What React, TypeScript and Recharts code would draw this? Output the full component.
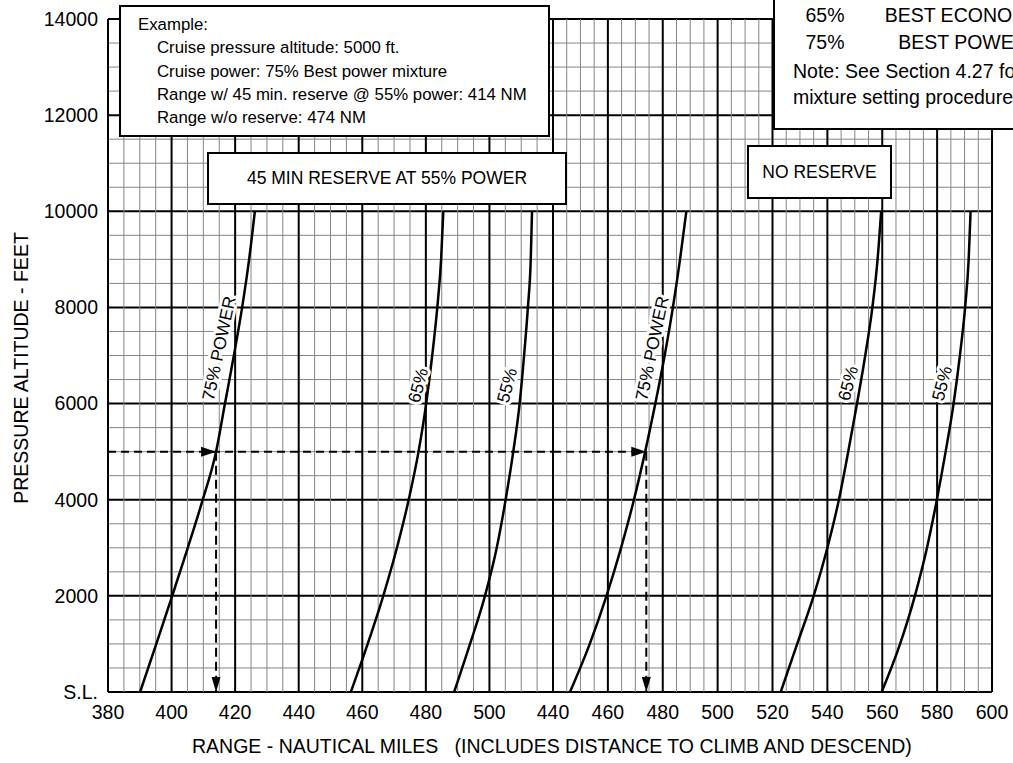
import { ComposedChart, Line, XAxis, YAxis, ReferenceLine, ReferenceDot } from 'recharts'

// pressure altitude (ft) at which each curve was read
const ALTITUDES = [0, 1000, 2000, 3000, 4000, 5000, 6000, 7000, 8000, 9000, 10000]

// 45 min reserve at 55% power (left scale)
const RES_75 = [390.1, 395.2, 400.2, 405.1, 409.8, 414.0, 416.8, 419.6, 422.2, 424.4, 426.2]
const RES_65 = [456.4, 461.7, 466.6, 470.9, 474.6, 477.7, 480.1, 482.0, 483.6, 484.8, 485.5]
const RES_55 = [488.9, 493.9, 498.6, 502.3, 505.1, 507.5, 509.5, 510.9, 512.1, 513.0, 513.4]

// no reserve (right scale)
const NORES_75 = [446.2, 453.4, 459.5, 464.8, 469.5, 473.6, 477.3, 480.7, 483.7, 486.3, 488.6]
const NORES_65 = [523.0, 529.0, 535.0, 540.0, 544.2, 547.6, 550.8, 553.8, 556.4, 558.3, 559.6]
const NORES_55 = [559.8, 566.5, 571.9, 576.3, 579.9, 583.1, 586.0, 588.3, 590.2, 591.5, 592.2]

const LEFT_TICKS = [380, 400, 420, 440, 460, 480, 500]
const RIGHT_TICKS = [440, 460, 480, 500, 520, 540, 560, 580, 600]
const ALT_TICKS = [0, 2000, 4000, 6000, 8000, 10000, 12000, 14000]

// worked example
const EX_ALT = 5000
const EX_RESERVE = 414
const EX_NO_RESERVE = 474

// the two range scales share one plot: left panel 380-520, right panel 440-600
const LEFT_START = 380
const LEFT_END = 520
const RIGHT_START = 440
const RIGHT_END = 600
const PX_LEFT = 108
const PX_SPLIT = 553
const PX_RIGHT = 992
const W = PX_RIGHT - PX_LEFT
const LEFT_DOMAIN = [LEFT_START, LEFT_START + W * (LEFT_END - LEFT_START) / (PX_SPLIT - PX_LEFT)]
const RIGHT_DOMAIN = [RIGHT_END - W * (RIGHT_END - RIGHT_START) / (PX_RIGHT - PX_SPLIT), RIGHT_END]

const FONT = '"Liberation Sans", Arial, Helvetica, sans-serif'

const steps = (a: number, b: number, s: number) => {
  const out: number[] = []
  for (let v = a; v <= b + 0.001; v += s) out.push(v)
  return out
}

const pts = (ranges: number[]) => ranges.map((x, i) => ({ x, y: ALTITUDES[i] }))

const MAJOR = { stroke: '#000', strokeWidth: 2 }
const MINOR = { stroke: '#858585', strokeWidth: 1 }

const CURVES = [
  { id: 'r75', axis: 'L', data: RES_75 },
  { id: 'r65', axis: 'L', data: RES_65 },
  { id: 'r55', axis: 'L', data: RES_55 },
  { id: 'n75', axis: 'R', data: NORES_75 },
  { id: 'n65', axis: 'R', data: NORES_65 },
  { id: 'n55', axis: 'R', data: NORES_55 },
]

const CURVE_LABELS = [
  { axis: 'L', x: 414.9, y: 7150, text: '75% POWER', angle: -78 },
  { axis: 'L', x: 477.5, y: 6380, text: '65%', angle: -75 },
  { axis: 'L', x: 505.5, y: 6380, text: '55%', angle: -75 },
  { axis: 'R', x: 476.1, y: 7150, text: '75% POWER', angle: -78 },
  { axis: 'R', x: 547.5, y: 6420, text: '65%', angle: -75 },
  { axis: 'R', x: 581.8, y: 6420, text: '55%', angle: -75 },
]

const labelShape = (text: string, angle: number) => (p: any) => (
  <text
    x={p.cx}
    y={p.cy}
    transform={`rotate(${angle} ${p.cx} ${p.cy})`}
    textAnchor="middle"
    dominantBaseline="central"
    fontSize={17.5}
    fill="#000"
    stroke="#fff"
    strokeWidth={6}
    strokeLinejoin="round"
    paintOrder="stroke"
  >
    {text}
  </text>
)

const arrowRight = (p: any) => (
  <polygon points={`${p.cx},${p.cy} ${p.cx - 15},${p.cy - 5} ${p.cx - 15},${p.cy + 5}`} fill="#000" />
)
const arrowDown = (p: any) => (
  <polygon points={`${p.cx},${p.cy} ${p.cx - 4.5},${p.cy - 15} ${p.cx + 4.5},${p.cy - 15}`} fill="#000" />
)

const box: React.CSSProperties = {
  position: 'absolute',
  boxSizing: 'border-box',
  border: '2px solid #000',
  background: '#fff',
  color: '#000',
}

const centred: React.CSSProperties = {
  position: 'absolute',
  width: 0,
  display: 'flex',
  justifyContent: 'center',
  whiteSpace: 'nowrap',
}

export default function App() {
  const tickStyle = { fill: '#000', fontSize: 19.5 }
  return (
    <div style={{ position: 'fixed', left: 0, top: 0, width: 1013, height: 763, overflow: 'hidden', background: '#fff', fontFamily: FONT }}>
      <ComposedChart width={1013} height={763} margin={{ top: 19, right: 21, bottom: 0, left: 0 }}>
        <XAxis
          xAxisId="L"
          dataKey="x"
          type="number"
          domain={LEFT_DOMAIN}
          allowDataOverflow
          ticks={LEFT_TICKS}
          interval={0}
          height={1}
          axisLine={false}
          tickLine={false}
          tickMargin={7}
          tick={tickStyle}
        />
        <XAxis
          xAxisId="R"
          dataKey="x"
          type="number"
          domain={RIGHT_DOMAIN}
          allowDataOverflow
          ticks={RIGHT_TICKS}
          interval={0}
          height={70}
          axisLine={false}
          tickLine={false}
          tickMargin={6}
          tick={tickStyle}
        />
        <YAxis
          dataKey="y"
          type="number"
          domain={[0, 14000]}
          allowDataOverflow
          ticks={ALT_TICKS}
          interval={0}
          width={108}
          axisLine={false}
          tickLine={false}
          tickMargin={4}
          tick={tickStyle}
          tickFormatter={(v: number) => (v === 0 ? 'S.L.' : String(v))}
        />

        {steps(0, 14000, 500).map(v => (
          <ReferenceLine key={`h${v}`} xAxisId="L" y={v} {...(v % 2000 === 0 ? MAJOR : MINOR)} />
        ))}
        {steps(LEFT_START, LEFT_END, 5).map(v => (
          <ReferenceLine key={`vl${v}`} xAxisId="L" x={v} {...((v - LEFT_START) % 20 === 0 ? MAJOR : MINOR)} />
        ))}
        {steps(RIGHT_START, RIGHT_END, 5).map(v => (
          <ReferenceLine key={`vr${v}`} xAxisId="R" x={v} {...((v - RIGHT_START) % 20 === 0 ? MAJOR : MINOR)} />
        ))}

        {CURVES.map(c => (
          <Line
            key={c.id}
            xAxisId={c.axis}
            data={pts(c.data)}
            dataKey="y"
            type="monotone"
            stroke="#000"
            strokeWidth={2.5}
            dot={false}
            activeDot={false}
            isAnimationActive={false}
          />
        ))}

        {/* example: 5000 ft, 75% power */}
        <Line xAxisId="L" data={[{ x: LEFT_START, y: EX_ALT }, { x: LEFT_END, y: EX_ALT }]} dataKey="y" type="linear"
          stroke="#000" strokeWidth={2} strokeDasharray="8 5" dot={false} activeDot={false} isAnimationActive={false} />
        <Line xAxisId="R" data={[{ x: RIGHT_START, y: EX_ALT }, { x: EX_NO_RESERVE, y: EX_ALT }]} dataKey="y" type="linear"
          stroke="#000" strokeWidth={2} strokeDasharray="8 5" dot={false} activeDot={false} isAnimationActive={false} />
        <Line xAxisId="L" data={[{ x: EX_RESERVE, y: EX_ALT }, { x: EX_RESERVE, y: 0 }]} dataKey="y" type="linear"
          stroke="#000" strokeWidth={2} strokeDasharray="9 5" dot={false} activeDot={false} isAnimationActive={false} />
        <Line xAxisId="R" data={[{ x: EX_NO_RESERVE, y: EX_ALT }, { x: EX_NO_RESERVE, y: 0 }]} dataKey="y" type="linear"
          stroke="#000" strokeWidth={2} strokeDasharray="9 5" dot={false} activeDot={false} isAnimationActive={false} />
        <ReferenceDot xAxisId="L" x={EX_RESERVE} y={EX_ALT} r={1} shape={arrowRight} />
        <ReferenceDot xAxisId="R" x={EX_NO_RESERVE} y={EX_ALT} r={1} shape={arrowRight} />
        <ReferenceDot xAxisId="L" x={EX_RESERVE} y={0} r={1} shape={arrowDown} />
        <ReferenceDot xAxisId="R" x={EX_NO_RESERVE} y={0} r={1} shape={arrowDown} />

        {CURVE_LABELS.map((l, i) => (
          <ReferenceDot key={`lab${i}`} xAxisId={l.axis} x={l.x} y={l.y} r={1} shape={labelShape(l.text, l.angle)} />
        ))}
      </ComposedChart>

      <div style={{ position: 'absolute', left: 22, top: 368, transform: 'translate(-50%, -50%) rotate(-90deg)', whiteSpace: 'nowrap', fontSize: 19.5, lineHeight: 1 }}>
        PRESSURE ALTITUDE - FEET
      </div>
      <div style={{ position: 'absolute', left: 192, top: 737, whiteSpace: 'pre', fontSize: 19.5, lineHeight: 1 }}>
        {'RANGE - NAUTICAL MILES   (INCLUDES DISTANCE TO CLIMB AND DESCEND)'}
      </div>

      <div style={{ ...box, left: 119, top: 5, width: 431, height: 132, padding: '6px 0 0 17px', fontSize: 16.8, lineHeight: '23.3px' }}>
        <div>Example:</div>
        <div style={{ marginLeft: 19 }}>Cruise pressure altitude: 5000 ft.</div>
        <div style={{ marginLeft: 19 }}>Cruise power: 75% Best power mixture</div>
        <div style={{ marginLeft: 19 }}>Range w/ 45 min. reserve @ 55% power: 414 NM</div>
        <div style={{ marginLeft: 19 }}>Range w/o reserve: 474 NM</div>
      </div>

      <div style={{ ...box, left: 207, top: 152, width: 360, height: 53, display: 'flex', alignItems: 'center', justifyContent: 'center', fontSize: 17.5 }}>
        45 MIN RESERVE AT 55% POWER
      </div>
      <div style={{ ...box, left: 747, top: 145, width: 145, height: 54, display: 'flex', alignItems: 'center', justifyContent: 'center', fontSize: 17.5 }}>
        NO RESERVE
      </div>

      {/* mixture table: the reference is cropped at the right page edge */}
      <div style={{ ...box, left: 773, top: -40, width: 300, height: 170, fontSize: 19.5, lineHeight: 1 }}>
        <div style={{ ...centred, left: 50, top: 44 }}>65%</div>
        <div style={{ ...centred, left: 188, top: 44 }}>BEST ECONOMY</div>
        <div style={{ ...centred, left: 50, top: 71 }}>75%</div>
        <div style={{ ...centred, left: 188, top: 71 }}>BEST POWER</div>
        <div style={{ position: 'absolute', left: 18, top: 100, whiteSpace: 'nowrap' }}>Note: See Section 4.27 for</div>
        <div style={{ position: 'absolute', left: 18, top: 126, whiteSpace: 'nowrap' }}>mixture setting procedures.</div>
      </div>
    </div>
  )
}
